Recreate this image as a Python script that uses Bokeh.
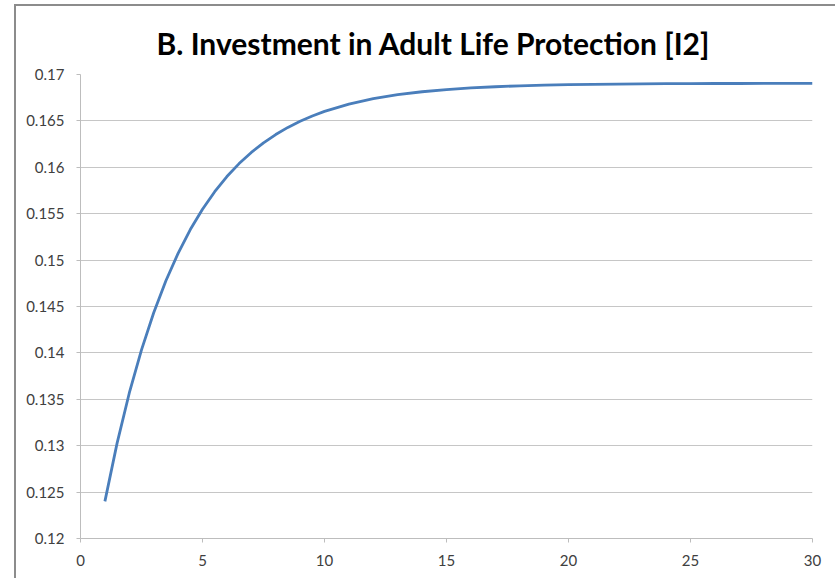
from bokeh.plotting import figure
from bokeh.embed import file_html
from bokeh.resources import INLINE
from bokeh.models import FixedTicker

# Data
periods = [1, 1.5, 2, 2.5, 3, 3.5, 4, 4.5, 5, 5.5, 6, 6.5, 7, 7.5, 8, 8.5, 9, 9.5, 10,
           11, 12, 13, 14, 15, 16, 17, 18, 19, 20, 21, 22, 23, 24, 25, 26, 27, 28, 29, 30]
investment = [0.12400, 0.13028, 0.13568, 0.14033, 0.14433, 0.14777, 0.15073, 0.15329, 0.15548,
              0.15737, 0.15900, 0.16040, 0.16160, 0.16264, 0.16353, 0.16430, 0.16496, 0.16553,
              0.16602, 0.16681, 0.16739, 0.16782, 0.16814, 0.16837, 0.16855, 0.16868, 0.16878,
              0.16885, 0.16890, 0.16894, 0.16897, 0.16899, 0.16901, 0.16902, 0.16903, 0.16903,
              0.16904, 0.16904, 0.16904]

x_ticks = [0, 5, 10, 15, 20, 25, 30]
y_ticks = [0.12, 0.125, 0.13, 0.135, 0.14, 0.145, 0.15, 0.155, 0.16, 0.165, 0.17]
y_tick_labels = ["0.12", "0.125", "0.13", "0.135", "0.14", "0.145", "0.15", "0.155", "0.16", "0.165", "0.17"]
title_text = "B. Investment in Adult Life Protection [I2]"

p = figure(width=821, height=574, output_backend="svg", toolbar_location=None,
           x_range=(0, 30), y_range=(0.12, 0.17), title=title_text,
           min_border_left=64, min_border_right=25, min_border_top=68, min_border_bottom=42)
p.margin = (4, 0, 0, 14)
p.styles = {"border-left": "2px solid #8c8c8c", "border-top": "2px solid #8c8c8c"}

p.title.text_font = "Lato"
p.title.text_font_style = "bold"
p.title.text_font_size = "30px"
p.title.align = "left"
p.title.offset = 76
p.title.text_color = "#000000"
p.title.standoff = 28

p.outline_line_color = None
p.background_fill_color = "white"
p.border_fill_color = "white"

p.line(periods, investment, line_color="#4a7ebb", line_width=2.8)

p.xgrid.grid_line_color = None
p.ygrid.grid_line_color = "#c6c6c6"
p.ygrid.grid_line_width = 1

p.xaxis.ticker = FixedTicker(ticks=x_ticks)
p.yaxis.ticker = FixedTicker(ticks=y_ticks)
p.yaxis.major_label_overrides = {t: l for t, l in zip(y_ticks, y_tick_labels)}

for ax in (p.xaxis, p.yaxis):
    ax.axis_line_color = "#bdbdbd"
    ax.axis_line_width = 1
    ax.major_tick_line_color = "#bdbdbd"
    ax.major_tick_in = 0
    ax.major_tick_out = 4
    ax.minor_tick_line_color = None
    ax.major_label_text_font = "Lato"
    ax.major_label_text_font_size = "15px"
    ax.major_label_text_color = "#404040"

p.yaxis.major_label_standoff = 12
p.xaxis.major_label_standoff = 12

open("out.html", "w").write(file_html(p, INLINE))
